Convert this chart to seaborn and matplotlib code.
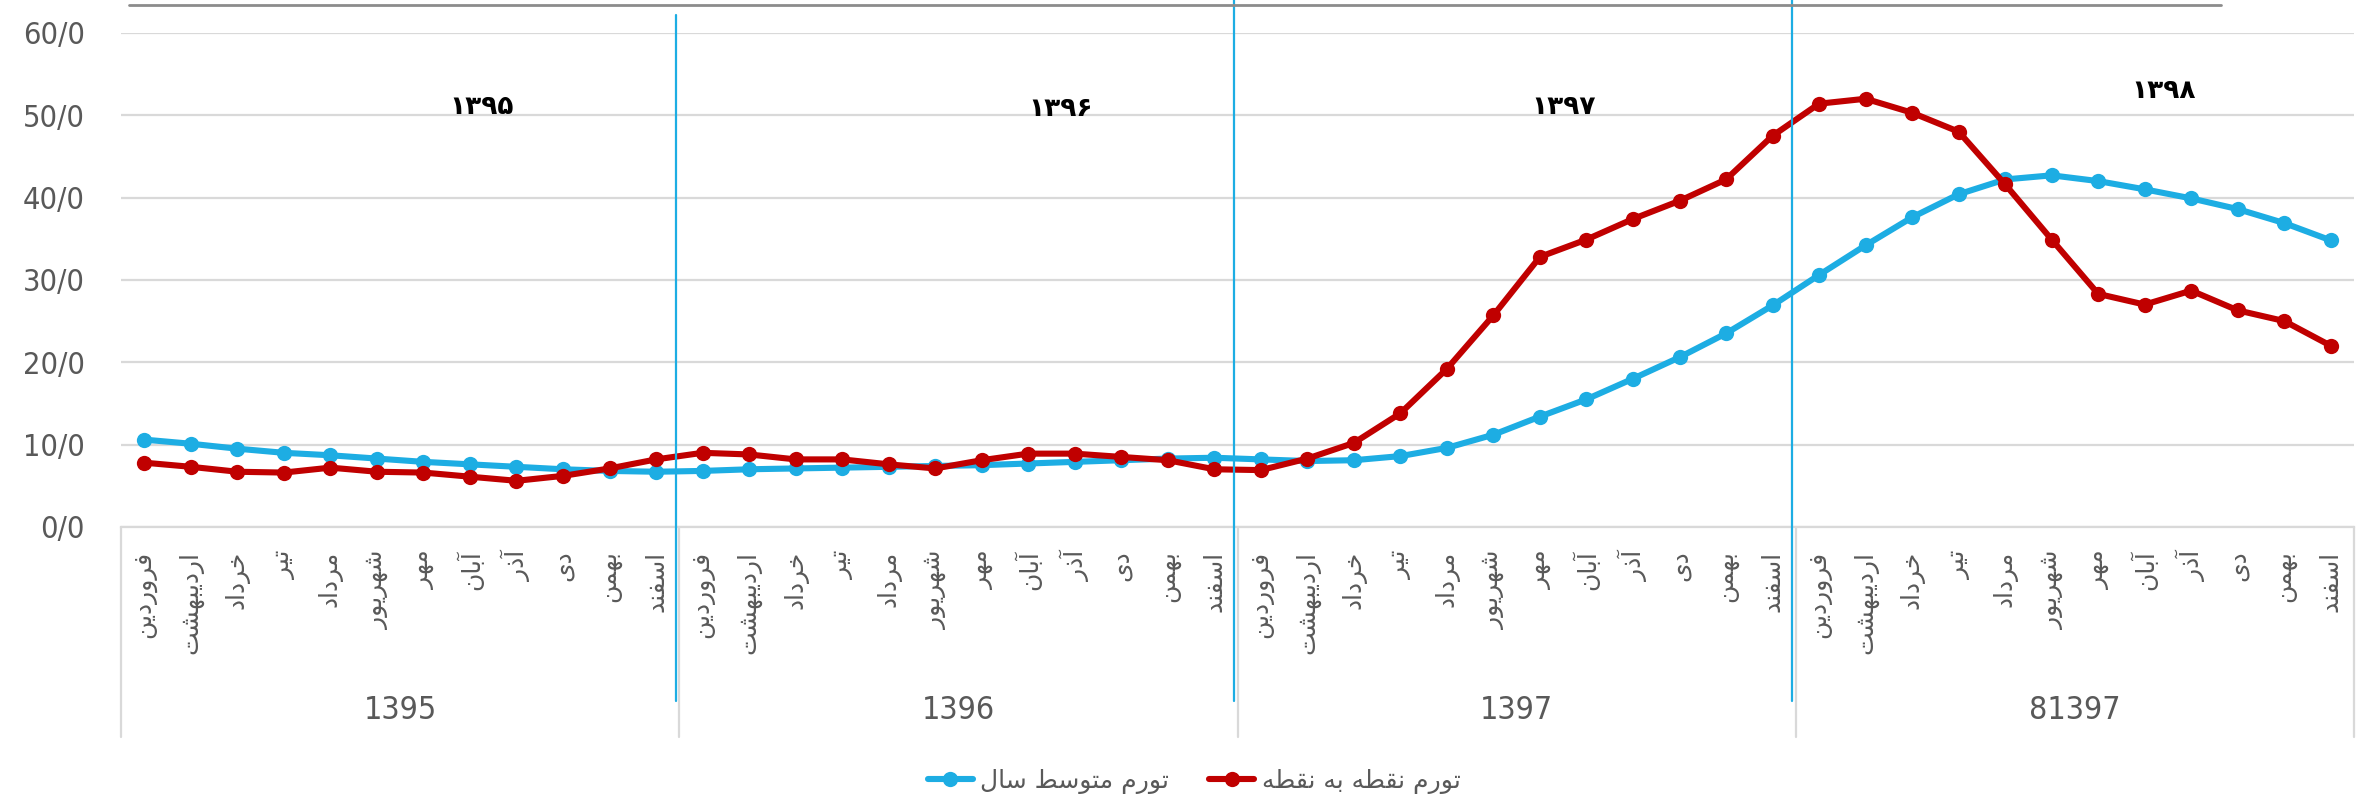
import pandas as pd
import seaborn as sns
import matplotlib.pyplot as plt
import matplotlib.transforms as mtransforms
from matplotlib.lines import Line2D

# data
years = ['1395', '1396', '1397', '81397']
year_marks = ['۱۳۹۵', '۱۳۹۶', '۱۳۹۷', '۱۳۹۸']
months = ['فروردین', 'اردیبهشت', 'خرداد', 'تیر', 'مرداد', 'شهریور',
          'مهر', 'آبان', 'آذر', 'دی', 'بهمن', 'اسفند']
series_names = ['تورم متوسط سال', 'تورم نقطه به نقطه']

avg_infl = [10.6, 10.1, 9.5, 9.0, 8.7, 8.3, 7.9, 7.6, 7.3, 7.0, 6.8, 6.7,
            6.8, 7.0, 7.1, 7.2, 7.3, 7.4, 7.5, 7.7, 7.9, 8.1, 8.3, 8.4,
            8.2, 8.0, 8.1, 8.6, 9.6, 11.2, 13.4, 15.5, 18.0, 20.6, 23.5, 26.9,
            30.6, 34.2, 37.6, 40.4, 42.2, 42.7, 42.0, 41.0, 39.9, 38.6, 36.9, 34.8]
p2p_infl = [7.8, 7.3, 6.7, 6.6, 7.2, 6.7, 6.6, 6.1, 5.6, 6.2, 7.1, 8.2,
            9.0, 8.8, 8.2, 8.2, 7.6, 7.1, 8.1, 8.9, 8.9, 8.5, 8.1, 7.0,
            6.9, 8.3, 10.2, 13.8, 19.2, 25.7, 32.8, 34.9, 37.4, 39.6, 42.2, 47.5,
            51.4, 52.0, 50.3, 48.0, 41.6, 34.9, 28.3, 27.0, 28.7, 26.3, 25.0, 22.0]

y_ticks = [0, 10, 20, 30, 40, 50, 60]
y_tick_labels = ['0/0', '10/0', '20/0', '30/0', '40/0', '50/0', '60/0']

# where the year numbers sit inside the plot (x index, value)
year_mark_pos = [(7.25, 51.0), (19.7, 50.7), (30.5, 51.0), (43.4, 53.0)]

BLUE = '#1DADE3'
RED = '#C00000'
GREY = '#595959'

# small persian shaper: matplotlib does not join arabic letters by itself
FORMS = {  # isolated, final, initial, medial
    'ا': ('\uFE8D', '\uFE8E', None, None),
    'آ': ('\uFE81', '\uFE82', None, None),
    'ب': ('\uFE8F', '\uFE90', '\uFE91', '\uFE92'),
    'ت': ('\uFE95', '\uFE96', '\uFE97', '\uFE98'),
    'خ': ('\uFEA5', '\uFEA6', '\uFEA7', '\uFEA8'),
    'د': ('\uFEA9', '\uFEAA', None, None),
    'ذ': ('\uFEAB', '\uFEAC', None, None),
    'ر': ('\uFEAD', '\uFEAE', None, None),
    'ز': ('\uFEAF', '\uFEB0', None, None),
    'س': ('\uFEB1', '\uFEB2', '\uFEB3', '\uFEB4'),
    'ش': ('\uFEB5', '\uFEB6', '\uFEB7', '\uFEB8'),
    'ط': ('\uFEC1', '\uFEC2', '\uFEC3', '\uFEC4'),
    'ف': ('\uFED1', '\uFED2', '\uFED3', '\uFED4'),
    'ق': ('\uFED5', '\uFED6', '\uFED7', '\uFED8'),
    'ل': ('\uFEDD', '\uFEDE', '\uFEDF', '\uFEE0'),
    'م': ('\uFEE1', '\uFEE2', '\uFEE3', '\uFEE4'),
    'ن': ('\uFEE5', '\uFEE6', '\uFEE7', '\uFEE8'),
    'ه': ('\uFEE9', '\uFEEA', '\uFEEB', '\uFEEC'),
    'و': ('\uFEED', '\uFEEE', None, None),
    'ی': ('\uFBFC', '\uFBFD', '\uFBFE', '\uFBFF'),
}


def shape(text):
    out = []
    for i, ch in enumerate(text):
        if ch not in FORMS:
            out.append(ch)
            continue
        prev = text[i - 1] if i > 0 else ''
        nxt = text[i + 1] if i + 1 < len(text) else ''
        iso, fin, ini, med = FORMS[ch]
        join_prev = prev in FORMS and FORMS[prev][2] is not None
        join_next = ini is not None and nxt in FORMS
        if join_prev and join_next:
            out.append(med)
        elif join_prev:
            out.append(fin)
        elif join_next:
            out.append(ini)
        else:
            out.append(iso)
    return ''.join(reversed(out))


sns.set_style('white')
plt.rcParams['font.family'] = ['DejaVu Sans']

n = len(avg_infl)
df = pd.DataFrame({
    'idx': list(range(n)) * 2,
    'value': avg_infl + p2p_infl,
    'series': [series_names[0]] * n + [series_names[1]] * n,
})

fig, ax = plt.subplots(figsize=(23.74, 8.02), dpi=100)
fig.subplots_adjust(left=0.051, right=0.9916, bottom=0.343, top=0.959)

sns.lineplot(data=df, x='idx', y='value', hue='series',
             palette={series_names[0]: BLUE, series_names[1]: RED},
             marker='o', markersize=11, markeredgewidth=0,
             linewidth=4.4, ax=ax, legend=False, zorder=3)

ax.set_xlim(-0.5, n - 0.5)
ax.set_ylim(0, 60)
ax.set_yticks(y_ticks)
ax.set_yticklabels(y_tick_labels, fontsize=22, color=GREY,
                   fontstretch='condensed')
ax.set_xticks(range(n))
ax.set_xticklabels([shape(m) for m in months] * len(years), rotation=90,
                   fontsize=18, color=GREY)
ax.tick_params(axis='both', length=0)
ax.tick_params(axis='x', pad=17)
ax.tick_params(axis='y', pad=26)
ax.set_xlabel('')
ax.set_ylabel('')
ax.grid(axis='y', color='#D9D9D9', linewidth=1.6)
ax.grid(axis='x', visible=False)
for s in ['left', 'right', 'top']:
    ax.spines[s].set_visible(False)
ax.spines['bottom'].set_color('#D9D9D9')
ax.spines['bottom'].set_linewidth(1.6)

trans = mtransforms.blended_transform_factory(ax.transData, ax.transAxes)

# year group box under the month labels
for k in range(len(years) + 1):
    ax.plot([12 * k - 0.5] * 2, [0, -0.425], color='#D9D9D9', lw=1.6,
            transform=trans, clip_on=False)
for k, yr in enumerate(years):
    ax.text(12 * k + 5.5, -0.372, yr, transform=trans, ha='center',
            va='center', fontsize=23, color=GREY, fontstretch='condensed')

# blue separators between years
for k, top in zip(range(1, len(years)), [1.036, 1.067, 1.067]):
    ax.plot([12 * k - 0.58] * 2, [-0.352, top], color=BLUE, lw=1.6,
            transform=trans, clip_on=False, zorder=4)

for mark, (xm, ym) in zip(year_marks, year_mark_pos):
    ax.text(xm, ym, mark, ha='center', va='center', fontsize=19,
            fontweight='bold', color='black')

# thin rule along the very top of the picture
fig.add_artist(Line2D([129 / 2374, 2221 / 2374], [1 - 5 / 802] * 2,
                      color='#8C8C8C', lw=2))

handles = [Line2D([], [], color=BLUE, lw=4.4, marker='o', markersize=11,
                  markeredgewidth=0),
           Line2D([], [], color=RED, lw=4.4, marker='o', markersize=11,
                  markeredgewidth=0)]
fig.legend(handles, [shape(s) for s in series_names], loc='center',
           bbox_to_anchor=(0.503, 0.026), ncol=2, frameon=False,
           fontsize=18, labelcolor=GREY, handlelength=1.8,
           handletextpad=0.3, columnspacing=1.6)

plt.savefig('out.png', dpi=100)
